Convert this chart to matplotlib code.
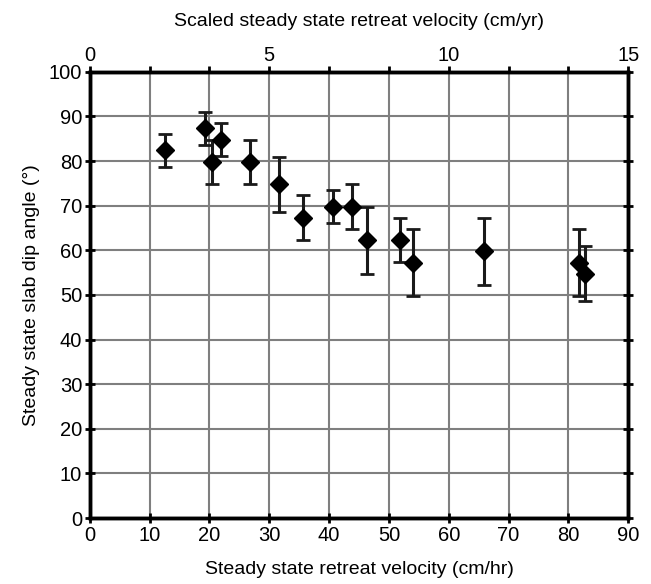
import numpy as np
import matplotlib
matplotlib.use("Agg")
import matplotlib.pyplot as plt

plt.rcParams['font.family'] = ['Liberation Sans', 'DejaVu Sans']

# 数据
velocity = [12.5, 19.3, 20.4, 22.0, 26.8, 31.7, 35.7, 40.7, 43.8, 46.4,
            51.8, 54.1, 65.9, 81.7, 82.7]
dip_angle = [82.4, 87.3, 79.8, 84.8, 79.8, 74.8, 67.3, 69.8, 69.8, 62.3,
             62.3, 57.2, 59.8, 57.2, 54.8]
dip_err = [3.7, 3.7, 5.0, 3.7, 5.0, 6.2, 5.0, 3.7, 5.0, 7.5,
           5.0, 7.5, 7.5, 7.5, 6.2]

x_ticks = np.arange(0, 91, 10)
y_ticks = np.arange(0, 101, 10)
top_labels = ['0', '', '', '5', '', '', '10', '', '', '15']

fig = plt.figure(figsize=(6.51, 5.84), dpi=100)
ax = fig.add_axes([0.138, 0.113, 0.827, 0.764])

ax.errorbar(velocity, dip_angle, yerr=dip_err, fmt='D', color='black',
            markersize=9, ecolor='#1a1a1a', elinewidth=2.2, capsize=5,
            capthick=2, zorder=3)

ax.set_xlim(0, 90)
ax.set_ylim(0, 100)
ax.set_xticks(x_ticks)
ax.set_yticks(y_ticks)
ax.grid(True, color='#7f7f7f', linewidth=1.5)
ax.set_axisbelow(True)
ax.tick_params(direction='inout', length=7, width=2, labelsize=14.5,
               right=True, top=False, pad=2)
for s in ax.spines.values():
    s.set_linewidth(2.5)

ax.set_xlabel('Steady state retreat velocity (cm/hr)', fontsize=14,
              labelpad=12)
ax.set_ylabel('Steady state slab dip angle (°)', fontsize=14, labelpad=6)

# 顶部坐标轴 (cm/yr)
ax2 = ax.twiny()
ax2.set_xlim(0, 15)
ax2.set_xticks(x_ticks / 6)
ax2.set_xticklabels(top_labels)
ax2.tick_params(direction='out', length=4, width=2, labelsize=14.5, pad=1)
ax2.set_xlabel('Scaled steady state retreat velocity (cm/yr)', fontsize=14,
               labelpad=14)
for s in ax2.spines.values():
    s.set_linewidth(2.5)

plt.savefig('out.png', dpi=100)
